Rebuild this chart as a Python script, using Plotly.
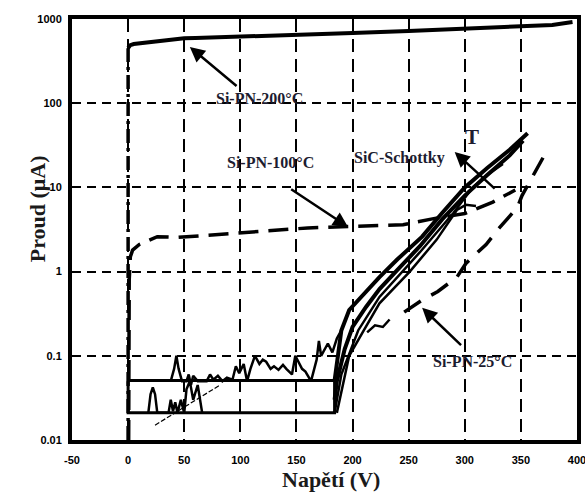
import plotly.graph_objects as go

# ---------------- data ----------------
x_ticks = [-50, 0, 50, 100, 150, 200, 250, 300, 350, 400]
x_ticktext = ["-50", "0", "50", "100", "150", "200", "250", "300", "350", "400"]
y_tickvals = [0.01, 0.1, 1, 10, 100, 1000]
y_ticktext = ["0.01", "0.1", "1", "10", "100", "1000"]

# Si-PN 200 °C : vertical rise at 0 V, then plateau
pn200_vert_x = [0, 0]
pn200_vert_y = [0.01, 450]
pn200_x = [0, 2, 5, 10, 20, 30, 40, 50, 60, 80, 120, 160, 200, 250, 300, 340, 378, 396]
pn200_y = [452, 490, 505, 515, 530, 550, 580, 590, 595, 605, 630, 655, 680, 720, 775, 805, 850, 920]

# Si-PN 100 °C
pn100_x = [0.5, 1, 2, 4, 10, 26, 45, 70, 100, 130, 160, 190, 215, 245, 270, 300, 325, 345]
pn100_y = [0.01, 0.8, 1.5, 1.8, 2.1, 2.6, 2.55, 2.7, 2.9, 3.1, 3.3, 3.4, 3.5, 3.6, 4.2, 4.9, 6.7, 9.3]

# Si-PN 25 °C
pn25_x = [246, 254, 262, 276, 285, 293, 301, 310, 319, 329, 338, 347, 351, 362, 373]
pn25_y = [0.33, 0.39, 0.46, 0.58, 0.72, 0.86, 1.25, 1.6, 2.1, 3.1, 4.2, 5.8, 8, 15, 27]

# SiC Schottky: leakage box and noisy traces
box_x = [0, 0, 184, 184, 0]
box_y = [0.05, 0.021, 0.021, 0.051, 0.051]

noise_up_x = [38, 41, 43, 45, 48, 52, 54, 56, 58, 62, 70, 73, 76, 80, 84, 88, 93, 96, 99, 103,
              106, 109, 113, 117, 120, 123, 127, 130, 134, 138, 141, 146, 149, 152, 155, 158,
              163, 168, 170, 172, 175, 178, 182, 186, 190]
noise_up_y = [0.05, 0.07, 0.1, 0.07, 0.05, 0.05, 0.06, 0.045, 0.058, 0.05, 0.05, 0.06, 0.052, 0.058,
              0.05, 0.055, 0.052, 0.075, 0.062, 0.08, 0.05, 0.07, 0.1, 0.08, 0.09, 0.085, 0.07,
              0.075, 0.068, 0.078, 0.07, 0.06, 0.1, 0.085, 0.07, 0.065, 0.05, 0.09, 0.15, 0.1,
              0.12, 0.14, 0.11, 0.16, 0.2]

noise_low_x = [18, 20, 22, 24, 26, 36, 38, 40, 42, 44, 47, 50, 52, 55, 58, 62, 66]
noise_low_y = [0.021, 0.035, 0.042, 0.035, 0.021, 0.021, 0.03, 0.022, 0.028, 0.021, 0.03, 0.021,
               0.04, 0.05, 0.03, 0.045, 0.021]

thin_x = [24, 82]
thin_y = [0.015, 0.045]

sic1_x = [184, 187, 190, 197, 210, 224, 240, 262, 280, 300, 320, 340, 356]
sic1_y = [0.051, 0.1, 0.2, 0.35, 0.55, 0.86, 1.4, 2.6, 5.0, 10, 17, 28, 44]
sic2_x = [184, 186, 193, 200, 212, 224, 240, 260, 280, 300, 320, 340, 352]
sic2_y = [0.03, 0.05, 0.12, 0.22, 0.38, 0.62, 1.05, 2.0, 4.2, 8, 14, 24, 36]
sic3_x = [184, 190, 205, 224, 260, 290, 307, 320, 334]
sic3_y = [0.021, 0.06, 0.2, 0.5, 1.7, 5.0, 10, 14, 19]
sic4_x = [186, 197, 210, 224, 251, 275, 293, 301, 310]
sic4_y = [0.021, 0.1, 0.2, 0.42, 1.0, 2.4, 5.4, 6.2, 6.0]
branch_x = [213, 220, 227, 233]
branch_y = [0.19, 0.23, 0.22, 0.27]

# annotations: label text, text position, arrow head, arrow tail (data units, y as log10)
labels = [
    ("Si-PN-200°C", 117, 2.06, 55, 2.667, 98, 2.19),
    ("Si-PN-100°C", 127, 1.29, 196, 0.53, 144, 0.99),
    ("SiC-Schottky", 242, 1.35, 291, 1.42, 328, 0.97),
    ("Si-PN-25°C", 307, -1.07, 262, -0.43, 298, -0.89),
]

# ---------------- figure ----------------
fig = go.Figure()
K = "black"

def line(x, y, width, dash="solid"):
    fig.add_trace(go.Scatter(x=x, y=y, mode="lines",
                             line=dict(color=K, width=width, dash=dash),
                             showlegend=False, hoverinfo="skip"))

line(pn200_vert_x, pn200_vert_y, 3.5, "14px,5px,3px,5px")
line(pn200_x, pn200_y, 4)
line(pn100_x, pn100_y, 3.5, "20px,10px")
line(pn25_x, pn25_y, 3.5, "20px,12px")
line(box_x, box_y, 3)
line(noise_up_x, noise_up_y, 2.5)
line(noise_low_x, noise_low_y, 2.5)
line(thin_x, thin_y, 1.2, "5px,2px")
line(sic1_x, sic1_y, 4)
line(sic2_x, sic2_y, 4)
line(sic3_x, sic3_y, 2.5)
line(sic4_x, sic4_y, 2.5)
line(branch_x, branch_y, 2.5)

for txt, tx, ty, hx, hy, ax, ay in labels:
    fig.add_annotation(x=tx, y=ty, text=f"<b>{txt}</b>", showarrow=False,
                       font=dict(family="Liberation Serif", size=16, color="#1c1c30"))
    fig.add_annotation(x=hx, y=hy, ax=ax, ay=ay, axref="x", ayref="y", text="",
                       showarrow=True, arrowhead=2, arrowsize=1.2, arrowwidth=2.5, arrowcolor=K)

fig.add_annotation(x=306, y=1.6, text="<b>T</b>", showarrow=False,
                   font=dict(family="Liberation Serif", size=21, color="#1c1c30"))

fig.add_annotation(xref="paper", yref="paper", x=-0.098, y=0.548, textangle=-90,
                   text="<b>Proud (μA)</b>", showarrow=False,
                   font=dict(family="Liberation Serif", size=22, color="#1a1a1a"))
fig.add_annotation(xref="paper", yref="paper", x=0.513, y=-0.095, yanchor="middle",
                   text="<b>Napětí (V)</b>", showarrow=False,
                   font=dict(family="Liberation Serif", size=22, color="#1a1a1a"))

fig.update_xaxes(range=[-50, 400], tickvals=x_ticks, ticktext=x_ticktext, ticks="",
                 automargin=False, ticklabelstandoff=7, ticklabeloverflow="allow",
                 showgrid=True, gridcolor=K, gridwidth=2, griddash="13px,7px",
                 showline=True, linecolor=K, linewidth=4, mirror=True, zeroline=False,
                 tickfont=dict(family="Liberation Sans", size=11, color=K, weight="bold"))
fig.update_yaxes(type="log", range=[-2, 3], tickvals=y_tickvals, ticktext=y_ticktext, ticks="",
                 automargin=False, ticklabelstandoff=4, ticklabeloverflow="allow",
                 showgrid=True, gridcolor=K, gridwidth=1.5, griddash="9px,6px",
                 showline=True, linecolor=K, linewidth=4, mirror=True, zeroline=False,
                 tickfont=dict(family="Liberation Sans", size=11, color=K, weight="bold"))

fig.update_layout(width=585, height=501, margin=dict(l=72, r=8, t=19, b=61),
                  paper_bgcolor="white", plot_bgcolor="white", showlegend=False)

fig.write_html("out.html")
